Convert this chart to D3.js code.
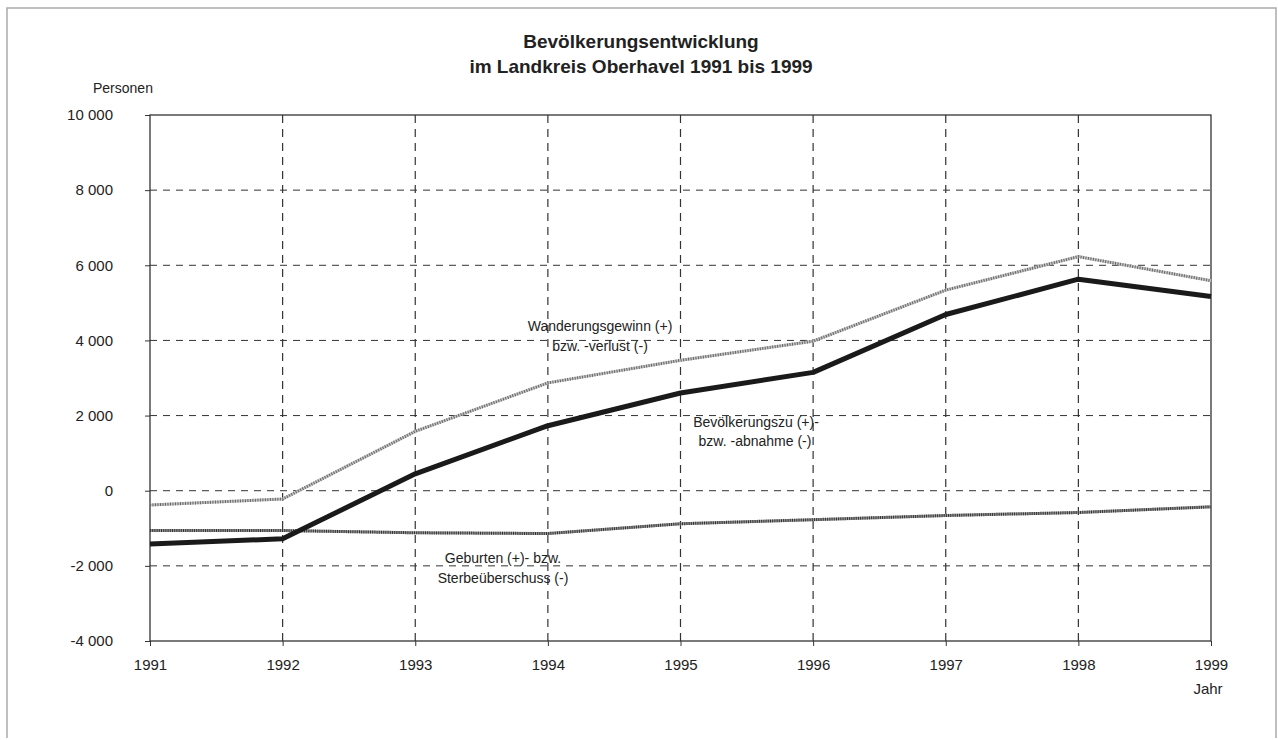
<!DOCTYPE html>
<html>
<head>
<meta charset="utf-8">
<script src="https://cdn.jsdelivr.net/npm/d3@7"></script>
<style>
  body { margin: 0; background: #fff; }
  svg text { font-family: "Liberation Sans", Arial, sans-serif; fill: #222; }
</style>
</head>
<body>
<div id="chart"></div>
<script>
// values (Personen)
var years = [1991, 1992, 1993, 1994, 1995, 1996, 1997, 1998, 1999];
var wanderung = [-380, -220, 1580, 2870, 3470, 3980, 5340, 6230, 5590];
var bevoelkerung = [-1420, -1280, 450, 1730, 2600, 3150, 4690, 5630, 5170];
var geburten = [-1060, -1060, -1120, -1140, -880, -770, -660, -580, -430];
var yTicks = [-4000, -2000, 0, 2000, 4000, 6000, 8000, 10000];

var W = 1278, H = 740;
var margin = {top: 115, right: 67, bottom: 99, left: 150},
  width = W - margin.left - margin.right,
  height = H - margin.top - margin.bottom;

var svg = d3.select("#chart")
  .append("svg")
  .attr("width", W)
  .attr("height", H);

// scanned page frame
svg.append("path")
  .attr("d", "M7,738 L7,8 L1276,8 L1276,738")
  .attr("fill", "none")
  .attr("stroke", "#aaa")
  .attr("stroke-width", 1.5);

var g = svg.append("g")
  .attr("transform", "translate(" + margin.left + "," + margin.top + ")");

var x = d3.scaleLinear().domain([1991, 1999]).range([0, width]);
var y = d3.scaleLinear().domain([-4000, 10000]).range([height, 0]);

// "10 000", "-2 000"
var fmt = function(d) { return d3.format(",")(d).replace(/,/g, " ").replace("\u2212", "-"); };

/****** GRID ******/
g.append("g")
  .selectAll("line")
  .data(yTicks.filter(function(d) { return d > -4000 && d < 10000; }))
  .enter()
  .append("line")
    .attr("x1", 0).attr("x2", width)
    .attr("y1", function(d) { return y(d); })
    .attr("y2", function(d) { return y(d); })
    .attr("stroke", "#333")
    .attr("stroke-width", 1)
    .attr("stroke-dasharray", "7,6");

g.append("g")
  .selectAll("line")
  .data(years.slice(1, -1))
  .enter()
  .append("line")
    .attr("y1", 0).attr("y2", height)
    .attr("x1", function(d) { return x(d); })
    .attr("x2", function(d) { return x(d); })
    .attr("stroke", "#333")
    .attr("stroke-width", 1.2)
    .attr("stroke-dasharray", "8,6");

/****** AXES ******/
var yAxis = d3.axisLeft(y).tickValues(yTicks).tickSize(5).tickPadding(32).tickFormat(fmt);
var xAxis = d3.axisBottom(x).tickValues(years).tickSize(5).tickPadding(13).tickFormat(d3.format("d"));

var gy = g.append("g").call(yAxis);
var gx = g.append("g").attr("transform", "translate(0," + height + ")").call(xAxis);
[gy, gx].forEach(function(a) {
  a.select(".domain").remove();
  a.selectAll("line").attr("stroke", "#333");
  a.selectAll("text")
    .style("font-size", "15px")
    .style("font-family", "'Liberation Sans', Arial, sans-serif")
    .attr("fill", "#222");
});

// plot box
g.append("rect")
  .attr("width", width)
  .attr("height", height)
  .attr("fill", "none")
  .attr("stroke", "#333")
  .attr("stroke-width", 1.3);

/****** LINES ******/
var line = d3.line()
  .x(function(d, i) { return x(years[i]); })
  .y(function(d) { return y(d); });

// Wanderung: thin light hatched
g.append("path").datum(wanderung)
  .attr("d", line).attr("fill", "none")
  .attr("stroke", "#c4c4c4").attr("stroke-width", 3);
g.append("path").datum(wanderung)
  .attr("d", line).attr("fill", "none")
  .attr("stroke", "#666").attr("stroke-width", 3)
  .attr("stroke-dasharray", "1,1.5");

// Geburten: darker hatched
g.append("path").datum(geburten)
  .attr("d", line).attr("fill", "none")
  .attr("stroke", "#999").attr("stroke-width", 3);
g.append("path").datum(geburten)
  .attr("d", line).attr("fill", "none")
  .attr("stroke", "#333").attr("stroke-width", 3)
  .attr("stroke-dasharray", "1,1.2");

// Bevölkerung: thick black
g.append("path").datum(bevoelkerung)
  .attr("d", line).attr("fill", "none")
  .attr("stroke", "#1a1a1a").attr("stroke-width", 5)
  .attr("stroke-linejoin", "round");

/****** TEXTS ******/
svg.append("text")
  .attr("x", 641).attr("y", 48)
  .attr("text-anchor", "middle")
  .style("font-size", "19px").style("font-weight", "bold")
  .text("Bevölkerungsentwicklung");
svg.append("text")
  .attr("x", 641).attr("y", 73)
  .attr("text-anchor", "middle")
  .style("font-size", "19px").style("font-weight", "bold")
  .text("im Landkreis Oberhavel 1991 bis 1999");

svg.append("text")
  .attr("x", 93).attr("y", 93)
  .style("font-size", "14px")
  .text("Personen");

svg.append("text")
  .attr("x", margin.left + x(1999) - 3).attr("y", 694)
  .attr("text-anchor", "middle")
  .style("font-size", "15px")
  .text("Jahr");

var labels = [
  {x: 600, y: 331, t: "Wanderungsgewinn (+)"},
  {x: 600, y: 351, t: "bzw. -verlust (-)"},
  {x: 756, y: 427, t: "Bevölkerungszu (+)-"},
  {x: 755, y: 446, t: "bzw. -abnahme (-)"},
  {x: 503, y: 563, t: "Geburten (+)- bzw."},
  {x: 503, y: 583, t: "Sterbeüberschuss (-)"}
];
svg.append("g")
  .selectAll("text")
  .data(labels)
  .enter()
  .append("text")
    .attr("x", function(d) { return d.x; })
    .attr("y", function(d) { return d.y; })
    .attr("text-anchor", "middle")
    .style("font-size", "14px")
    .text(function(d) { return d.t; });
</script>
</body>
</html>
